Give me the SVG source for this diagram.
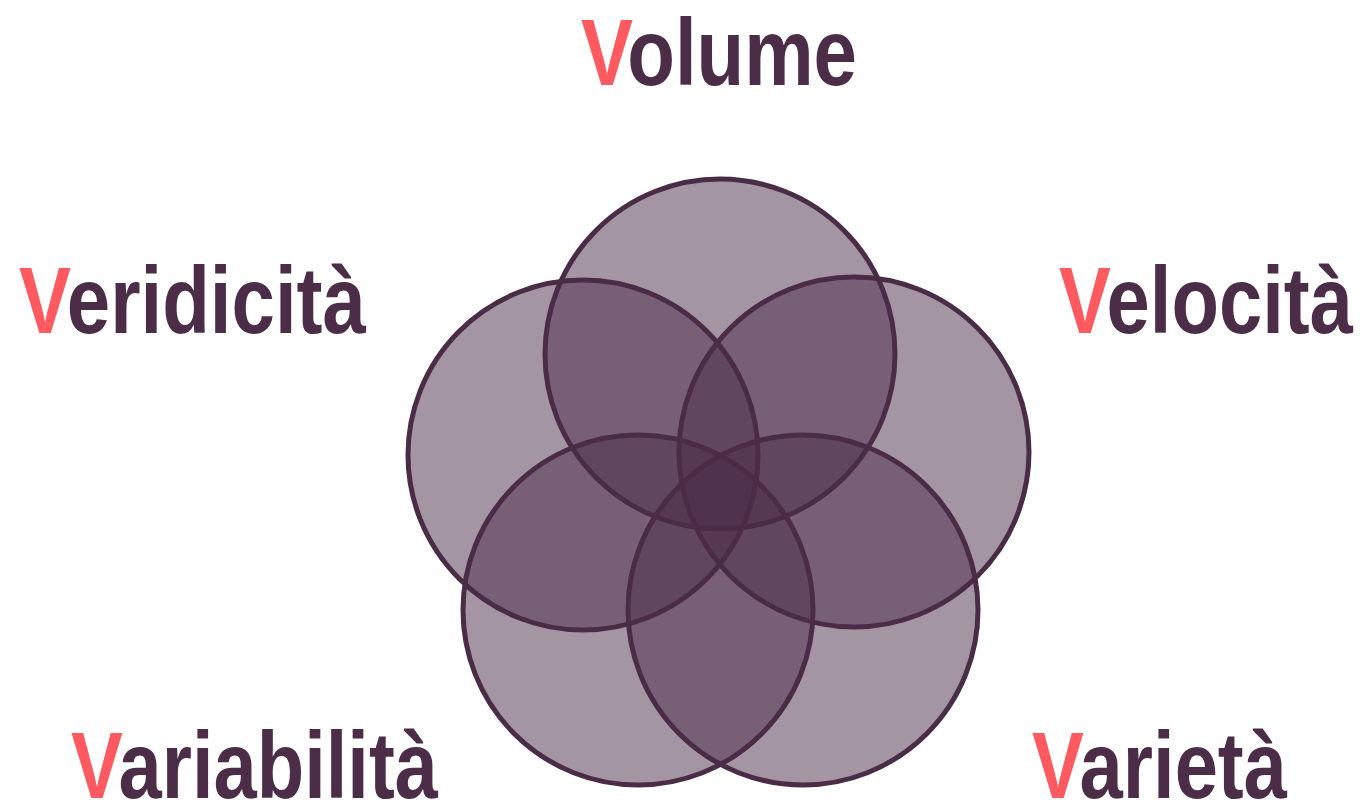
<svg xmlns="http://www.w3.org/2000/svg" width="1364" height="804" viewBox="0 0 1364 804">
<style>
.c{fill:#4a2c47;fill-opacity:0.5;stroke:#4a2c47;stroke-width:5}
.t{font-family:"Liberation Sans",Arial,sans-serif;font-weight:bold;font-size:94px;fill:#4b2d47}
.v{fill:#ff5a5f}
</style>
<rect width="1364" height="804" fill="#ffffff"/>
<g id="circles">
<g id="c-volume"><circle class="c" cx="720" cy="354" r="175"/></g>
<g id="c-velocita"><circle class="c" cx="854" cy="452" r="175"/></g>
<g id="c-veridicita"><circle class="c" cx="583" cy="455" r="175"/></g>
<g id="c-variabilita"><circle class="c" cx="638" cy="610" r="175"/></g>
<g id="c-varieta"><circle class="c" cx="803" cy="610" r="175"/></g>
</g>
<g id="connectors"></g>
<g id="labels">
<g id="l-volume"><text class="t" x="581" y="85" textLength="276" lengthAdjust="spacingAndGlyphs"><tspan class="v">V</tspan>olume</text></g>
<g id="l-veridicita"><text class="t" x="19" y="333" textLength="347" lengthAdjust="spacingAndGlyphs"><tspan class="v">V</tspan>eridicità</text></g>
<g id="l-velocita"><text class="t" x="1059" y="333" textLength="294" lengthAdjust="spacingAndGlyphs"><tspan class="v">V</tspan>elocità</text></g>
<g id="l-variabilita"><text class="t" x="71" y="798" textLength="367" lengthAdjust="spacingAndGlyphs"><tspan class="v">V</tspan>ariabilità</text></g>
<g id="l-varieta"><text class="t" x="1032" y="798" textLength="255" lengthAdjust="spacingAndGlyphs"><tspan class="v">V</tspan>arietà</text></g>
</g>
</svg>
